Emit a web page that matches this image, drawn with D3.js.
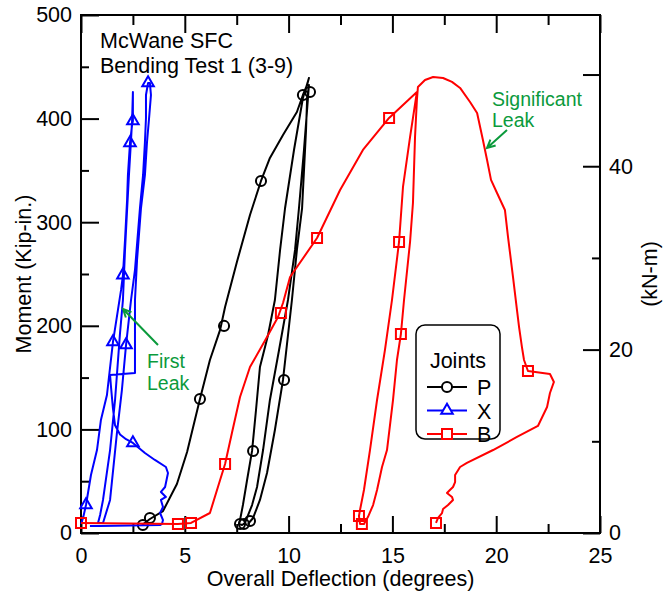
<!DOCTYPE html>
<html>
<head>
<meta charset="utf-8">
<script src="https://cdn.jsdelivr.net/npm/d3@7"></script>
<style>
  body { margin: 0; background: #fff; }
  text { font-family: "Liberation Sans", Arial, Helvetica, sans-serif; }
</style>
</head>
<body>
<div id="chart"></div>
<script>
// deflection (degrees), moment (kip-in.)
var seriesP = [
  [2.94,7.7],[3.32,13.5],[3.95,21.2],[4.62,47.3],[5.11,78.2],[5.73,129.4],[6.21,167.0],[6.70,196.0],
  [6.94,218.2],[7.51,261.6],[8.14,307.0],[8.67,339.8],[9.10,362.0],[9.73,384.2],[10.40,406.4],
  [10.69,422.8],[10.89,432.5],[10.98,439.2],
  [10.69,419.9],[10.26,369.7],[9.83,313.7],[9.59,273.2],[9.34,224.9],[9.01,191.1],[8.62,160.2],
  [8.43,118.7],[8.24,79.2],[8.00,51.2],[7.80,27.0],[7.66,12.5],[7.61,8.7],
  [7.76,7.7],[7.90,9.7],[8.24,27.0],[8.48,44.4],[8.77,80.1],[9.10,128.4],[9.54,176.6],[9.97,224.9],
  [10.31,273.2],[10.50,313.7],[10.74,369.7],[10.89,408.3],[10.98,432.5],
  [10.89,418.0],[10.84,389.0],[10.65,313.7],[10.40,273.2],[10.16,224.9],[9.73,147.7],[9.34,99.4],
  [8.96,57.9],[8.62,31.9],[8.29,14.5],[8.04,8.7]
];
var markersP = [[2.98,7.7],[3.32,14.5],[5.73,129.4],[6.89,199.9],[8.67,339.8],[10.69,422.8],
  [11.03,425.7],[8.29,79.2],[9.78,147.7],[7.66,8.7],[7.85,8.7],[8.14,11.6]];

var seriesX = [
  [0,8.7],[0.10,14.5],[0.24,27.0],[0.48,56.0],[0.77,80.1],[0.96,109.1],[1.25,133.2],[1.54,184.4],
  [1.78,215.3],[1.93,234.6],[2.02,249.0],[2.12,282.8],[2.22,321.4],[2.26,345.6],[2.36,376.5],
  [2.46,393.8],[2.50,397.7],[2.50,418.0],[2.50,425.7],
  [2.46,397.7],[2.41,379.4],[2.31,345.6],[2.22,311.8],[2.12,273.2],[2.02,224.9],[1.88,193.1],
  [1.64,128.4],[1.40,80.1],[1.06,31.9],[0.92,17.4],[0.82,9.7],
  [1.06,9.7],[1.40,31.9],[1.73,96.5],[1.97,138.0],[2.17,181.5],[2.41,224.9],[2.60,253.9],
  [2.84,313.7],[2.99,345.6],[3.08,377.4],[3.13,400.6],[3.13,422.8],[3.23,434.4],
  [3.32,434.4],[3.37,422.8],[3.28,400.6],[3.18,377.4],[3.08,345.6],[2.89,313.7],[2.70,263.5],
  [2.60,224.9],[2.60,154.4],[1.40,152.5],[1.45,140.0],[1.54,120.0],[1.64,104.0],[1.88,95.0],
  [2.17,90.5],[2.50,86.9],[3.08,77.2],[3.56,70.5],[4.09,63.7],[4.19,57.9],[4.05,44.4],[3.85,39.6],
  [4.09,34.8],[3.85,31.9],[3.95,25.1],[3.81,19.3],[3.95,12.5],[3.90,8.7],[3.81,7.7],[0.92,6.8],[0.43,6.8]
];
var markersX = [[0.24,27.0],[1.54,184.4],[2.17,181.5],[2.50,86.9],[2.02,249.0],[2.36,376.5],
  [2.50,397.7],[3.23,434.4]];

var seriesB = [
  [0.00,9.7],[4.67,8.7],[5.30,9.7],[6.21,19.3],[6.70,51.2],[6.94,66.6],[7.27,96.5],[7.66,131.3],
  [8.14,160.2],[8.96,189.2],[9.49,208.5],[9.73,222.0],[10.07,247.1],[11.37,284.7],[12.48,331.1],
  [13.58,369.7],[14.84,400.6],[16.18,425.7],
  [15.85,382.2],[15.51,334.0],[15.32,280.9],[14.98,224.9],[14.64,176.6],[14.26,128.4],[13.92,80.1],
  [13.63,41.5],[13.44,22.2],[13.39,16.4],[13.44,8.7],
  [13.63,8.7],[13.82,15.4],[14.07,27.0],[14.26,41.5],[14.50,63.7],[14.74,80.1],[15.03,128.4],
  [15.22,167.0],[15.41,192.1],[15.56,224.9],[15.85,280.9],[15.99,318.5],[16.09,382.3],[16.18,418.0],
  [16.23,430.5],[16.57,437.3],[16.96,440.2],[17.44,439.2],[17.87,435.4],[18.26,429.6],[18.74,416.0],
  [19.08,405.4],[19.36,379.4],[19.56,360.1],[19.75,340.8],[20.04,328.2],[20.42,311.8],[20.57,285.7],
  [20.81,247.1],[21.00,215.3],[21.10,198.9],[21.24,179.5],[21.34,167.0],[21.53,156.4],[22.59,153.5],
  [22.78,145.8],[22.59,135.1],[22.45,121.6],[22.01,103.3],[21.00,92.7],[19.85,80.1],[18.59,67.6],
  [18.26,63.7],[18.02,56.0],[18.02,49.2],[17.92,44.4],[17.77,41.5],[17.63,38.6],[17.87,34.8],
  [17.92,31.9],[17.68,27.0],[17.44,23.2],[17.39,19.3],[17.20,14.5],[17.10,9.7]
];
var markersB = [[0.00,9.7],[4.67,8.7],[5.30,9.7],[6.94,66.6],[9.63,212.4],[11.37,284.7],
  [14.84,400.6],[15.32,280.9],[15.41,192.1],[13.39,16.4],[13.53,8.7],[21.53,156.4],[17.10,9.7]];

var xMajor = [0, 5, 10, 15, 20, 25];
var xMinor = [2.5, 7.5, 12.5, 17.5, 22.5];
var yMajor = [0, 100, 200, 300, 400, 500];
var yMinor = [50, 150, 250, 350, 450];
var kNmMajor = [0, 20, 40, 50];
var kNmMinor = [10, 30];
var kNmLabels = [0, 20, 40];
var legendNames = ["P", "X", "B"];
var KIPIN_TO_KNM = 0.112985;

var margin = {top: 15, right: 63, bottom: 63, left: 81},
    width = 663 - margin.left - margin.right,
    height = 596 - margin.top - margin.bottom;

var x = d3.scaleLinear().domain([0, 25]).range([0, width]);
var y = d3.scaleLinear().domain([0, 500]).range([height, 0]);
var yk = d3.scaleLinear().domain([0, 500 * KIPIN_TO_KNM]).range([height, 0]);

var svg = d3.select("#chart").append("svg")
    .attr("width", 663)
    .attr("height", 596)
  .append("g")
    .attr("transform", "translate(" + margin.left + "," + margin.top + ")");

var FS = "21.5px";

function styleAxis(g) {
  g.select(".domain").remove();
  g.selectAll(".tick line").attr("stroke", "#000").attr("stroke-width", 2);
  g.selectAll(".tick text").attr("fill", "#000").style("font-size", FS)
    .style("font-family", '"Liberation Sans", Arial, sans-serif');
}

// bottom
svg.append("g").attr("transform", "translate(0," + height + ")")
  .call(d3.axisBottom(x).tickValues(xMajor).tickSize(-17).tickPadding(14.5)).call(styleAxis);
svg.append("g").attr("transform", "translate(0," + height + ")")
  .call(d3.axisBottom(x).tickValues(xMinor).tickSize(-9).tickFormat("")).call(styleAxis);
// top
svg.append("g")
  .call(d3.axisTop(x).tickValues(xMajor).tickSize(-18).tickFormat("")).call(styleAxis);
svg.append("g")
  .call(d3.axisTop(x).tickValues(xMinor).tickSize(-10).tickFormat("")).call(styleAxis);
// left
svg.append("g")
  .call(d3.axisLeft(y).tickValues(yMajor).tickSize(-18).tickPadding(9)).call(styleAxis);
svg.append("g")
  .call(d3.axisLeft(y).tickValues(yMinor).tickSize(-8).tickFormat("")).call(styleAxis);
// right (kN-m)
svg.append("g").attr("transform", "translate(" + width + ",0)")
  .call(d3.axisRight(yk).tickValues(kNmMajor).tickSize(-17).tickPadding(9)
    .tickFormat(function(d) { return kNmLabels.indexOf(d) >= 0 ? d : ""; })).call(styleAxis);
svg.append("g").attr("transform", "translate(" + width + ",0)")
  .call(d3.axisRight(yk).tickValues(kNmMinor).tickSize(-8).tickFormat("")).call(styleAxis);

// frame
svg.append("rect")
  .attr("width", width).attr("height", height)
  .attr("fill", "none").attr("stroke", "#000").attr("stroke-width", 2);

// axis titles
svg.append("text")
  .attr("x", width / 2).attr("y", height + 53)
  .attr("text-anchor", "middle").style("font-size", FS)
  .text("Overall Deflection (degrees)");
svg.append("text")
  .attr("transform", "rotate(-90)")
  .attr("x", -height / 2).attr("y", 31 - margin.left)
  .attr("text-anchor", "middle").style("font-size", FS)
  .text("Moment (Kip-in.)");
svg.append("text")
  .attr("transform", "rotate(-90)")
  .attr("x", -height / 2).attr("y", width + 57)
  .attr("text-anchor", "middle").style("font-size", FS)
  .text("(kN-m)");

// title text
svg.append("text").attr("x", 19).attr("y", 33).style("font-size", FS).text("McWane SFC");
svg.append("text").attr("x", 19).attr("y", 58).style("font-size", FS).text("Bending Test 1 (3-9)");

var line = d3.line()
  .x(function(d) { return x(d[0]); })
  .y(function(d) { return y(d[1]); });

var sym = {
  P: d3.symbol().type(d3.symbolCircle).size(80),
  X: d3.symbol().type(d3.symbolTriangle).size(58),
  B: d3.symbol().type(d3.symbolSquare).size(100)
};

var layers = [
  {name: "P", color: "#000000", data: seriesP, marks: markersP},
  {name: "X", color: "#0000ff", data: seriesX, marks: markersX},
  {name: "B", color: "#ff0000", data: seriesB, marks: markersB}
];

layers.forEach(function(s) {
  svg.append("path")
    .datum(s.data)
    .attr("d", line)
    .attr("fill", "none")
    .attr("stroke", s.color)
    .attr("stroke-width", 2)
    .attr("stroke-linejoin", "round");
  svg.selectAll(".m" + s.name)
    .data(s.marks)
    .enter().append("path")
    .attr("transform", function(d) { return "translate(" + x(d[0]) + "," + y(d[1]) + ")"; })
    .attr("d", sym[s.name])
    .attr("fill", "none")
    .attr("stroke", s.color)
    .attr("stroke-width", 2);
});

// annotations
var green = "#0b9a3c";
svg.append("text").attr("x", 66).attr("y", 353).attr("fill", green).style("font-size", "19.5px").text("First");
svg.append("text").attr("x", 66).attr("y", 375).attr("fill", green).style("font-size", "19.5px").text("Leak");
svg.append("text").attr("x", 411).attr("y", 91).attr("fill", green).style("font-size", "19.5px").text("Significant");
svg.append("text").attr("x", 411).attr("y", 112).attr("fill", green).style("font-size", "19.5px").text("Leak");

function arrow(x1, y1, x2, y2) {
  var a = Math.atan2(y2 - y1, x2 - x1), L = 9, w = 0.45;
  svg.append("path")
    .attr("d", "M" + x1 + "," + y1 + "L" + x2 + "," + y2 +
      "M" + (x2 - L * Math.cos(a - w)) + "," + (y2 - L * Math.sin(a - w)) +
      "L" + x2 + "," + y2 +
      "L" + (x2 - L * Math.cos(a + w)) + "," + (y2 - L * Math.sin(a + w)))
    .attr("fill", "none").attr("stroke", green).attr("stroke-width", 2);
}
arrow(77, 330, 42, 294);
arrow(426, 115, 406, 133);

// legend
var lg = svg.append("g").attr("transform", "translate(335,310)");
lg.append("rect").attr("width", 84).attr("height", 114).attr("rx", 9)
  .attr("fill", "#fff").attr("stroke", "#000").attr("stroke-width", 1.5);
lg.append("text").attr("x", 42).attr("y", 43).attr("text-anchor", "middle")
  .style("font-size", FS).text("Joints");
layers.forEach(function(s, i) {
  var yy = 62 + i * 23.5;
  lg.append("line").attr("x1", 11).attr("x2", 51).attr("y1", yy).attr("y2", yy)
    .attr("stroke", s.color).attr("stroke-width", 2);
  lg.append("path").attr("transform", "translate(31," + yy + ")")
    .attr("d", sym[s.name]).attr("fill", "#fff").attr("stroke", s.color).attr("stroke-width", 2);
  lg.append("text").attr("x", 61).attr("y", yy + 8).style("font-size", FS).text(legendNames[i]);
});
</script>
</body>
</html>
